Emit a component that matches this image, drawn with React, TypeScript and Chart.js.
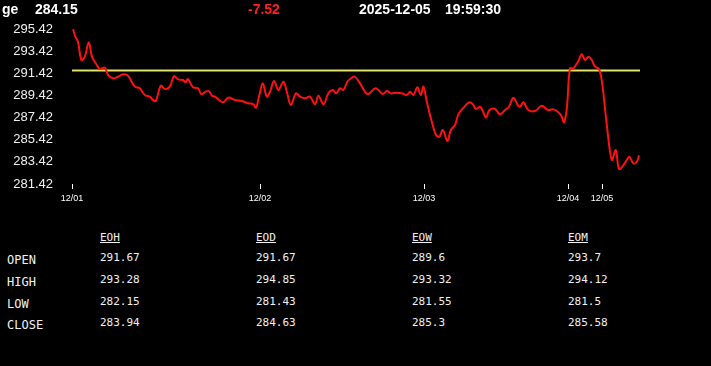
import React, { useEffect, useRef } from "react";
import { Chart, registerables } from "chart.js";

Chart.register(...registerables);

// time position (session units) and price of each traced point
const times = [
  0.5, 1.7, 3, 4.7, 6.4, 8.4, 10, 12.2, 13.9, 16.4, 18, 20.5, 23, 25.5, 28, 31.4, 33.9, 36.4, 38.9, 40.5,
  41.9, 44.4, 46.4, 48.9, 51, 53, 55.5, 56.7, 58, 60.5, 63, 64.7, 66.7, 68.4, 70, 71.5, 75.4, 78.2, 81.5,
  84.9, 88.2, 90.7, 92, 93.7, 95.4, 97.4, 99, 101, 103.2, 105.7, 107.4, 109.4, 112, 114, 116.5, 119, 121.5,
  123.2, 125.7, 128.2, 130.4, 132, 134, 135.7, 137.7, 139.9, 141.5, 144, 146.5, 148.2, 151.5, 153.2, 155.4,
  157.4, 159.4, 162.4, 164.9, 167.4, 169, 170.7, 172.7, 174.4, 175.7, 177.4, 179.9, 182, 183.7, 185.4,
  187.7, 189.4, 191.5, 193.2, 195.7, 198.7, 200.4, 202, 204, 205.4, 207, 208.7, 211.5, 214, 216.5, 218.5,
  220.7, 222.9, 224, 225.7, 228.2, 231.5, 234.9, 237.9, 240.7, 243.2, 244.9, 246, 247.4, 249, 250.7, 251.9,
  253.2, 254.9, 256.5, 258.2, 259.9, 261.5, 263.5, 265.2, 267.4, 269.9, 271.9, 273.5, 275.7, 277.4, 278.7,
  280.7, 282.4, 283.5,
];
const prices = [
  295.4, 294.72, 294.27, 292.62, 292.92, 294.22, 292.92, 292.23, 291.81, 291.93, 291.27, 290.97, 291.11,
  291.33, 291.2, 290.21, 290.06, 289.46, 289.31, 289.0, 288.92, 290.3, 290.0, 290.21, 291.17, 290.87,
  290.81, 290.6, 290.9, 290.15, 290.06, 289.52, 289.75, 289.82, 289.4, 289.31, 288.8, 289.22, 289.0,
  288.92, 288.71, 288.62, 288.31, 289.46, 290.51, 289.31, 289.75, 290.72, 289.91, 290.66, 289.75, 288.55,
  289.61, 289.31, 289.16, 289.31, 288.62, 289.4, 288.62, 289.61, 289.91, 289.61, 290.06, 289.91, 290.66,
  291.02, 291.11, 290.51, 289.75, 289.55, 290.06, 289.91, 289.55, 289.82, 289.61, 289.67, 289.61, 289.46,
  289.75, 289.46, 290.15, 289.46, 290.21, 288.85, 287.05, 285.85, 285.69, 286.3, 285.3, 286.3, 286.75,
  287.71, 288.31, 288.8, 288.62, 288.19, 288.4, 288.01, 287.41, 288.1, 288.19, 287.71, 288.1, 288.4,
  289.22, 288.55, 288.4, 288.8, 288.1, 288.01, 288.49, 288.1, 288.16, 287.9, 287.5, 286.99, 288.25,
  291.87, 291.87, 292.17, 292.53, 293.13, 292.62, 292.92, 292.62, 292.02, 291.81, 290.36, 286.75, 283.59,
  284.49, 282.77, 283.13, 283.59, 283.88, 283.28, 283.43, 284.0,
];
const refPrice = 291.67;
const timeRange = [0, 284];
const dayTicks = [0, 94, 176, 248, 265];
const dayLabels = ["12/01", "12/02", "12/03", "12/04", "12/05"];
const yTicks = [281.42, 283.42, 285.42, 287.42, 289.42, 291.42, 293.42, 295.42];

const headerName = "ge";
const lastPrice = "284.15";
const change = "-7.52";
const dateText = "2025-12-05";
const timeText = "19:59:30";

const tableCols = ["EOH", "EOD", "EOW", "EOM"];
const tableRows = ["OPEN", "HIGH", "LOW", "CLOSE"];
const tableEOH = ["291.67", "293.28", "282.15", "283.94"];
const tableEOD = ["291.67", "294.85", "281.43", "284.63"];
const tableEOW = ["289.6", "293.32", "281.55", "285.3"];
const tableEOM = ["293.7", "294.12", "281.5", "285.58"];

export default function App() {
  const ref = useRef<HTMLCanvasElement>(null);
  useEffect(() => {
    const ctx = ref.current!;
    const chart = new Chart(ctx, {
      type: "line",
      data: {
        datasets: [
          {
            data: times.map((t, i) => ({ x: t, y: prices[i] })),
            borderColor: "#ff1010",
            borderWidth: 2,
            pointRadius: 0,
            tension: 0.35,
            order: 1,
          },
          {
            data: [
              { x: timeRange[0], y: refPrice },
              { x: timeRange[1], y: refPrice },
            ],
            borderColor: "#dfe36a",
            borderWidth: 2,
            pointRadius: 0,
            order: 2,
          },
        ],
      },
      options: {
        animation: false,
        responsive: false,
        maintainAspectRatio: false,
        plugins: { legend: { display: false }, tooltip: { enabled: false } },
        layout: { padding: { left: 0, right: 71, top: 29, bottom: 0 } },
        scales: {
          x: {
            type: "linear",
            min: timeRange[0],
            max: timeRange[1],
            border: { display: false },
            grid: { display: true, drawOnChartArea: false, drawTicks: true, tickLength: 5, color: "#ffffff", lineWidth: 1 },
            afterBuildTicks: (s: any) => {
              s.ticks = dayTicks.map((v) => ({ value: v }));
            },
            afterFit: (s: any) => {
              s.height = 26;
            },
            ticks: {
              color: "#ffffff",
              font: { family: "Liberation Sans, Arial", size: 9 },
              padding: 4,
              maxRotation: 0,
              autoSkip: false,
              callback: (v: any) => {
                const i = dayTicks.indexOf(Number(v));
                return i >= 0 ? dayLabels[i] : "";
              },
            },
          },
          y: {
            min: yTicks[0],
            max: yTicks[yTicks.length - 1],
            border: { display: false },
            grid: { display: false },
            afterBuildTicks: (s: any) => {
              s.ticks = yTicks.map((v) => ({ value: v }));
            },
            afterFit: (s: any) => {
              s.width = 72;
            },
            ticks: {
              color: "#f0f0f0",
              font: { family: "Liberation Sans, Arial", size: 13 },
              padding: 11,
              callback: (v: any) => Number(v).toFixed(2),
            },
          },
        },
      },
    });
    return () => chart.destroy();
  }, []);

  const head: React.CSSProperties = {
    position: "absolute",
    top: 1,
    fontFamily: "Liberation Sans, Arial",
    fontWeight: "bold",
    fontSize: 14,
    lineHeight: "16px",
    color: "#ffffff",
    whiteSpace: "nowrap",
  };
  const mono: React.CSSProperties = {
    position: "absolute",
    fontFamily: "DejaVu Sans Mono, monospace",
    color: "#f2f2f2",
    whiteSpace: "nowrap",
    lineHeight: "14px",
  };
  const colX = [100, 256, 412, 568];
  const colData = [tableEOH, tableEOD, tableEOW, tableEOM];
  const rowY = [258, 280, 302, 323];

  return (
    <div style={{ position: "fixed", left: 0, top: 0, width: 711, height: 366, background: "#000", overflow: "hidden" }}>
      <canvas ref={ref} width={711} height={210} style={{ position: "absolute", left: 0, top: 0, width: 711, height: 210 }} />
      <div style={{ ...head, left: 2 }}>{headerName}</div>
      <div style={{ ...head, left: 35 }}>{lastPrice}</div>
      <div style={{ ...head, left: 248, color: "#ff2020" }}>{change}</div>
      <div style={{ ...head, left: 359 }}>{dateText}</div>
      <div style={{ ...head, left: 445 }}>{timeText}</div>
      {tableCols.map((c, i) => (
        <div key={c} style={{ ...mono, left: colX[i], top: 231, fontSize: 11, textDecoration: "underline" }}>
          {c}
        </div>
      ))}
      {tableRows.map((r, j) => (
        <div key={r} style={{ ...mono, left: 7, top: rowY[j] - 5, fontSize: 12 }}>
          {r}
        </div>
      ))}
      {colData.map((col, i) =>
        col.map((v, j) => (
          <div key={i + "-" + j} style={{ ...mono, left: colX[i], top: rowY[j] - 7, fontSize: 11 }}>
            {v}
          </div>
        ))
      )}
    </div>
  );
}
